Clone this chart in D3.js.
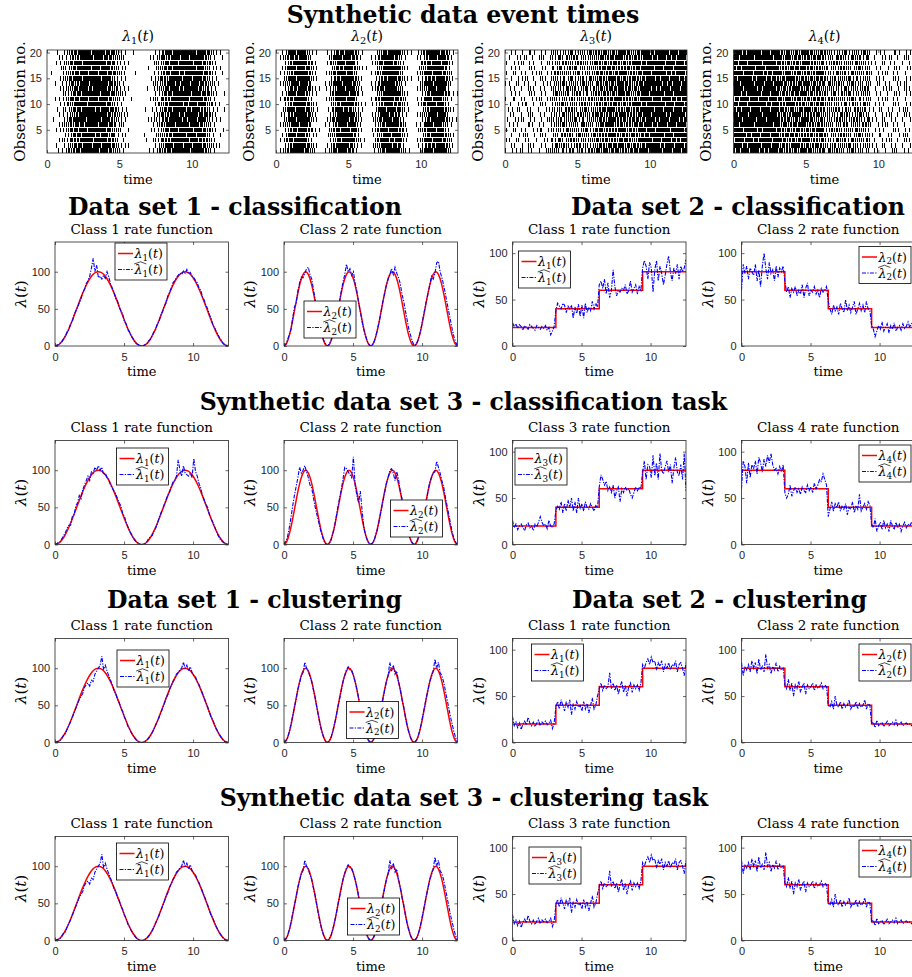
<!DOCTYPE html>
<html>
<head>
<meta charset="utf-8">
<script src="https://cdn.jsdelivr.net/npm/d3@7"></script>
<style>
body { margin: 0; background: #fff; }
svg { display: block; }
</style>
</head>
<body>
<div id="container"></div>
<script>
//time axis runs over two full periods
var tEnd = 4 * Math.PI;

//event counts per time bin (48 bins over [0, 4pi]), one string per observation, obs 1 first
var raster1 = [
  "0001 12233 4344343 32211 0000001 12233 43443434 3211 000",
  "0010 11233 3434434 33211 1000000 11234 34344343 3221 100",
  "0001 21323 4433443 32201 0000010 21323 44343443 2311 000",
  "0000 11234 3443434 23111 0000100 12223 34434434 3210 100",
  "0011 12333 4343443 32210 1000001 11233 43434343 3221 010",
  "0001 22233 3444343 33121 0000000 12234 34443433 2211 000",
  "0100 12334 4343434 32211 0000011 21233 44343434 3211 100",
  "0001 11223 4434443 32221 1000000 12323 43434434 3321 000",
  "0010 21233 3443434 33211 0000101 11234 34434343 2211 010",
  "0001 12234 4343443 32110 0000000 12233 44343434 3221 100",
  "0011 12333 4434343 32211 0100001 21323 43443434 3211 000",
  "0000 21234 3443434 33221 0000000 11234 34434343 3321 010",
  "0001 12233 4343443 32211 1000010 12233 43434434 2211 000",
  "0010 11323 4434434 33211 0000000 21234 34343443 3221 100",
  "0001 22334 3443434 32111 0000001 12323 44344343 3211 000",
  "0100 12233 4344343 33221 0010000 11233 43434434 3321 010",
  "0001 21233 4434434 32211 0000010 12234 34443434 2211 100",
  "0011 12334 3443443 33111 1000000 21233 43434343 3221 000",
  "0001 11223 4343434 32221 0000001 12323 44343434 3211 010",
  "0010 12233 4434343 33211 0100000 11234 34434434 3321 100"
];
var raster2 = [
  "012343433210 012334342100 001233443211 002343434210",
  "001234443210 011343432110 012244343100 011234343210",
  "012334342100 001233443211 002343434210 012343433210",
  "011343432110 012244343100 011234343210 001234443210",
  "001233443211 002343434210 012343433210 012334342100",
  "012244343100 011234343210 001234443210 011343432110",
  "002343434210 012343433210 012334342100 001233443211",
  "011234343210 001234443210 011343432110 012244343100",
  "012343433210 011343432110 002343434210 001234443210",
  "001234443210 001233443211 011234343210 012334342100",
  "012334342100 012244343100 012343433210 011343432110",
  "011343432110 002343434210 001234443210 001233443211",
  "001233443211 011234343210 012334342100 012244343100",
  "012244343100 012343433210 011343432110 002343434210",
  "002343434210 001234443210 001233443211 011234343210",
  "011234343210 012334342100 012244343100 012343433210",
  "012343433210 001233443211 001234443210 012244343100",
  "001234443210 012244343100 012334342100 002343434210",
  "012334342100 002343434210 011343432110 011234343210",
  "011343432110 011234343210 001233443211 012343433210"
];
var raster3 = [
  "101120110102 221213122132 324233232343 434343443434",
  "011010210110 132221231212 232333423232 334434343343",
  "110201101011 213122312122 323232433223 443343434334",
  "010112010210 121322132213 232343232332 343443343434",
  "102011011201 212132212312 332323342323 434334434343",
  "011100210110 122312213221 233432323233 343434334343",
  "101120110102 213122312122 232343232332 434334434343",
  "011010210110 121322132213 332323342323 343434334343",
  "110201101011 212132212312 233432323233 434343443434",
  "010112010210 122312213221 324233232343 334434343343",
  "102011011201 221213122132 232333423232 443343434334",
  "011100210110 132221231212 323232433223 343443343434",
  "011010210110 212132212312 232333423232 443343434334",
  "110201101011 122312213221 323232433223 343443343434",
  "010112010210 221213122132 232343232332 434334434343",
  "102011011201 132221231212 332323342323 343434334343",
  "011100210110 213122312122 233432323233 434343443434",
  "101120110102 121322132213 324233232343 334434343343",
  "010112010210 213122312122 232333423232 343434334343",
  "011010210110 221213122132 323232433223 443343434334"
];
var raster4 = [
  "334434343343 323232433223 132221231212 011010210110",
  "443343434334 232343232332 213122312122 110201101011",
  "343443343434 332323342323 121322132213 010112010210",
  "434334434343 233432323233 212132212312 102011011201",
  "343434334343 324233232343 122312213221 011100210110",
  "434343443434 232333423232 221213122132 101120110102",
  "343443343434 323232433223 121322132213 110201101011",
  "434334434343 232343232332 212132212312 010112010210",
  "343434334343 332323342323 122312213221 102011011201",
  "434343443434 233432323233 221213122132 011100210110",
  "334434343343 324233232343 132221231212 101120110102",
  "443343434334 232333423232 213122312122 011010210110",
  "343434334343 232343232332 221213122132 010112010210",
  "434343443434 332323342323 132221231212 102011011201",
  "334434343343 233432323233 213122312122 011100210110",
  "443343434334 324233232343 121322132213 101120110102",
  "343443343434 232333423232 212132212312 011010210110",
  "434334434343 323232433223 122312213221 110201101011",
  "434343443434 324233232343 121322132213 010112010210",
  "443343434334 323232433223 221213122132 011100210110"
];
var rasterTitles = ["1", "2", "3", "4"];

//true rate functions, sampled every pi/16
var trueGrid = d3.range(65).map(function(k) { return k * Math.PI / 16; });
var trueSin1 = [0, 0.96, 3.81, 8.43, 14.64, 22.22, 30.87, 40.25, 50, 59.75, 69.13, 77.78, 85.36, 91.57, 96.19, 99.04, 100,
  99.04, 96.19, 91.57, 85.36, 77.78, 69.13, 59.75, 50, 40.25, 30.87, 22.22, 14.64, 8.43, 3.81, 0.96, 0,
  0.96, 3.81, 8.43, 14.64, 22.22, 30.87, 40.25, 50, 59.75, 69.13, 77.78, 85.36, 91.57, 96.19, 99.04, 100,
  99.04, 96.19, 91.57, 85.36, 77.78, 69.13, 59.75, 50, 40.25, 30.87, 22.22, 14.64, 8.43, 3.81, 0.96, 0];
var trueSin2 = [0, 3.81, 14.64, 30.87, 50, 69.13, 85.36, 96.19, 100, 96.19, 85.36, 69.13, 50, 30.87, 14.64, 3.81,
  0, 3.81, 14.64, 30.87, 50, 69.13, 85.36, 96.19, 100, 96.19, 85.36, 69.13, 50, 30.87, 14.64, 3.81,
  0, 3.81, 14.64, 30.87, 50, 69.13, 85.36, 96.19, 100, 96.19, 85.36, 69.13, 50, 30.87, 14.64, 3.81,
  0, 3.81, 14.64, 30.87, 50, 69.13, 85.36, 96.19, 100, 96.19, 85.36, 69.13, 50, 30.87, 14.64, 3.81, 0];
//piecewise constant rates
var stepTimes = [0, Math.PI, 2 * Math.PI, 3 * Math.PI, 4 * Math.PI];
var stepUp = [20, 40, 60, 80, 80];
var stepDown = [80, 60, 40, 20, 20];

//estimated rate functions, sampled every pi/25
var estGrid = d3.range(101).map(function(k) { return k * Math.PI / 25; });
var estDs1Cls1 = [0, 1, 2, 4, 6, 10, 13, 19, 22, 30, 33, 42, 47,
  52, 58, 64, 72, 76, 84, 88, 94,
  105, 118, 100, 109, 92, 94, 90, 95, 91, 100, 93, 84, 78,
  73, 64, 61, 52, 47, 43, 33, 30, 22, 19, 13, 10, 5, 3, 2, 0, 0,
  0, 2, 3, 7, 9, 14, 19, 22, 30, 33, 42, 46, 54, 58, 67, 72, 78, 85, 88, 92, 95, 98, 96, 101, 98,
  103, 97, 99, 94, 92, 88, 85, 78, 75, 66, 62, 55, 50, 42, 37, 28, 25, 19, 15, 10, 7, 3, 2, 0, 0];
var estDs1Cls2 = [0, 2, 8, 15, 22, 38, 52, 58, 74, 85, 93, 92, 98, 104, 106, 96, 90, 76, 62, 50, 38, 25, 14, 7, 2, 0,
  2, 7, 14, 22, 35, 48, 60, 74, 86, 96, 110, 100, 104, 95, 100, 84, 74, 58, 46, 33, 22, 14, 6, 2, 0,
  2, 6, 14, 24, 34, 47, 60, 70, 82, 90, 96, 104, 96, 106, 98, 92, 84, 70, 60, 47, 35, 22, 14, 6, 1,
  2, 6, 14, 24, 36, 48, 60, 70, 82, 94, 90, 98, 112, 114, 100, 92, 82, 70, 58, 46, 34, 22, 12, 5, 0];
var estDs2Cls1 = [25, 21, 24, 19, 23, 21, 17, 22, 20, 18, 23, 21, 19, 17, 22, 20, 18, 21, 19, 22, 17, 20, 12, 16, 21,
  38, 46, 43, 40, 46, 44, 36, 43, 40, 44, 30, 42, 35, 45, 32, 44, 30, 46, 36, 42, 38, 48, 40, 46, 42,
  66, 70, 62, 72, 56, 68, 52, 60, 82, 64, 54, 60, 58, 62, 60, 66, 56, 60, 70, 58, 62, 66, 56, 64, 60,
  84, 92, 86, 72, 90, 84, 58, 82, 92, 70, 86, 78, 66, 76, 88, 97, 80, 70, 84, 78, 88, 72, 86, 80, 84, 93];
var estDs2Cls2 = [60, 88, 78, 86, 72, 84, 80, 76, 88, 70, 82, 64, 86, 100, 84, 72, 90, 78, 82, 70, 86, 74, 84, 80, 86,
  70, 58, 64, 52, 62, 58, 64, 54, 60, 56, 66, 52, 62, 68, 54, 60, 58, 64, 56, 60, 52, 62, 58, 60, 64,
  48, 40, 34, 44, 38, 42, 34, 46, 40, 36, 50, 38, 44, 36, 42, 48, 34, 40, 46, 38, 44, 36, 48, 40, 38,
  22, 18, 10, 16, 22, 18, 26, 16, 20, 24, 14, 22, 18, 25, 16, 20, 22, 17, 24, 19, 21, 26, 20, 24, 25, 28];
var estSet3Cls1 = [0, 1, 3, 4, 8, 12, 16, 22, 26, 26, 38, 40, 52, 56, 66, 62, 74, 80, 86, 92, 86, 98, 96, 104, 100, 106,
  100, 104, 94, 96, 90, 88, 80, 76, 72, 68, 62, 56, 52, 42, 38, 30, 24, 18, 14, 9, 6, 3, 2, 0, 0,
  0, 1, 4, 8, 10, 12, 18, 22, 28, 36, 42, 48, 54, 60, 66, 70, 78, 84, 86, 92, 114, 100, 92, 106, 96,
  94, 92, 96, 90, 116, 98, 92, 82, 76, 66, 60, 54, 50, 40, 34, 30, 24, 18, 12, 8, 5, 3, 1, 0, 0];
var estSet3Cls2 = [0, 4, 10, 22, 36, 52, 66, 78, 90, 104, 96, 100, 106, 98, 90, 80, 76, 62, 50, 40, 30, 20, 12, 5, 1, 0,
  1, 5, 14, 22, 36, 50, 62, 74, 88, 104, 102, 98, 94, 90, 118, 80, 66, 56, 72, 46, 24, 12, 6, 2, 0,
  2, 6, 14, 22, 34, 46, 58, 70, 82, 90, 100, 102, 96, 86, 98, 88, 72, 62, 48, 36, 22, 12, 6, 2, 0,
  1, 6, 14, 24, 36, 50, 58, 72, 84, 90, 96, 98, 112, 104, 96, 86, 78, 64, 52, 40, 28, 16, 8, 3, 0];
var estSet3Cls3 = [26, 18, 22, 16, 20, 22, 18, 15, 21, 23, 18, 20, 15, 22, 19, 24, 30, 24, 20, 22, 17, 26, 20, 18, 22,
  36, 42, 38, 46, 34, 44, 36, 48, 40, 50, 36, 46, 34, 50, 38, 44, 36, 46, 40, 38, 44, 40, 36, 42, 40,
  62, 75, 70, 64, 68, 58, 62, 56, 64, 50, 58, 62, 46, 60, 56, 62, 58, 60, 54, 50, 56, 62, 58, 62, 60,
  78, 90, 70, 86, 84, 72, 96, 74, 88, 70, 98, 80, 76, 84, 90, 78, 86, 66, 82, 94, 78, 74, 86, 70, 98, 58];
var estSet3Cls4 = [60, 90, 84, 66, 88, 72, 86, 82, 90, 76, 94, 88, 78, 92, 84, 96, 88, 98, 86, 80, 82, 76, 84, 78, 86,
  56, 50, 54, 64, 52, 58, 62, 56, 60, 54, 62, 58, 56, 64, 58, 62, 56, 66, 60, 64, 70, 68, 76, 70, 64,
  30, 38, 46, 36, 44, 40, 46, 36, 42, 38, 44, 32, 40, 38, 46, 34, 42, 38, 54, 36, 40, 44, 38, 46, 42,
  22, 18, 28, 14, 20, 24, 16, 26, 18, 22, 14, 26, 20, 16, 24, 18, 22, 14, 20, 24, 18, 22, 20, 24, 20, 22];
//clustering estimates (the same curves appear for data set 1/2 and data set 3)
var estClu1 = [0, 1, 2, 3, 6, 10, 12, 18, 23, 28, 34, 40, 46, 52, 58, 62, 66, 74, 78, 80, 76, 84, 82, 92, 96, 100,
  104, 116, 98, 104, 96, 90, 84, 78, 70, 66, 58, 54, 46, 42, 34, 30, 22, 18, 13, 9, 6, 3, 1, 0, 0,
  0, 2, 3, 6, 9, 13, 18, 24, 28, 34, 40, 46, 52, 60, 64, 72, 76, 82, 86, 92, 94, 98, 100, 108, 100,
  104, 96, 102, 94, 90, 88, 82, 78, 72, 66, 60, 54, 48, 40, 34, 30, 24, 18, 14, 10, 6, 3, 1, 0, 0];
var estClu2 = [0, 2, 6, 14, 24, 36, 48, 58, 72, 80, 90, 94, 108, 100, 96, 88, 82, 70, 60, 46, 34, 22, 13, 6, 1, 0,
  2, 6, 14, 24, 34, 48, 58, 70, 82, 90, 98, 102, 98, 97, 90, 82, 72, 60, 46, 34, 24, 14, 6, 2, 0,
  2, 6, 14, 24, 34, 46, 58, 70, 82, 90, 108, 96, 104, 92, 96, 82, 72, 58, 48, 34, 22, 14, 6, 2, 0,
  2, 6, 14, 24, 36, 48, 60, 70, 82, 88, 96, 112, 100, 108, 94, 90, 82, 70, 58, 46, 34, 24, 14, 6, 0];
var estClu3 = [28, 18, 22, 16, 21, 14, 20, 23, 19, 27, 21, 18, 22, 17, 21, 24, 18, 22, 20, 23, 19, 21, 24, 15, 21,
  38, 44, 36, 46, 40, 34, 44, 38, 46, 30, 42, 36, 44, 38, 40, 34, 44, 36, 42, 32, 40, 48, 36, 40, 50,
  58, 64, 56, 62, 58, 60, 75, 58, 64, 56, 62, 52, 60, 66, 54, 62, 50, 60, 64, 54, 62, 58, 62, 56, 64,
  84, 80, 86, 90, 84, 92, 86, 88, 78, 86, 82, 88, 76, 84, 80, 86, 78, 84, 82, 88, 76, 84, 86, 80, 72, 86];
var estClu4 = [86, 72, 82, 78, 84, 76, 88, 80, 86, 74, 90, 78, 82, 76, 95, 80, 84, 74, 82, 78, 86, 76, 82, 78, 80,
  62, 58, 68, 56, 64, 50, 62, 58, 66, 54, 60, 64, 52, 62, 58, 60, 64, 56, 62, 58, 60, 64, 58, 62, 60,
  40, 38, 44, 36, 50, 40, 38, 44, 36, 42, 38, 40, 46, 36, 40, 38, 44, 36, 42, 38, 40, 46, 36, 42, 40,
  20, 22, 16, 24, 18, 20, 22, 17, 20, 23, 18, 20, 22, 19, 24, 18, 20, 22, 18, 20, 21, 19, 20, 18, 20, 19];

//panel texts
var rateClassNo = [["1", "2", "1", "2"], ["1", "2", "3", "4"], ["1", "2", "1", "2"], ["1", "2", "3", "4"]];
var rateEstimates = [
  [estDs1Cls1, estDs1Cls2, estDs2Cls1, estDs2Cls2],
  [estSet3Cls1, estSet3Cls2, estSet3Cls3, estSet3Cls4],
  [estClu1, estClu2, estClu3, estClu4],
  [estClu1, estClu2, estClu3, estClu4]
];
var yTicksRate = [0, 50, 100];
var xTicks = [0, 5, 10];
var yTicksRaster = [5, 10, 15, 20];

//layout
var W = 912, H = 977;
var serif = '"DejaVu Serif", serif';
var sans = '"Liberation Sans", Arial, sans-serif';
var axisColor = "#262626";
var estDash = "4,1.3,1.3,1.3";
var rasterLeft = [47, 276, 505, 733.5], rasterTop = 50, rasterW = 182, rasterH = 103;
var rateLeft = [55, 284, 512.5, 741.5], rateTop = [242, 440.5, 638.5, 836.5], rateW = 173.5, rateH = 104;
var rateYmax = [140, 140, 112, 112];
//legend offsets from the axes corner
var legendPos = [
  [[60, 1], [20, 59], [6, 9], [117.5, 4.5]],
  [[61.5, 7.5], [106.5, 59.5], [2.5, 7.5], [117.5, 4.5]],
  [[62, 11.5], [62.5, 63], [19, 5.5], [117.5, 5.5]],
  [[61.5, 6.5], [63.5, 61.5], [16.5, 10.5], [117.5, 3.5]]
];
var superTitles = [
  {text: "Synthetic data event times", x: 463, y: 23, anchor: "middle"},
  {text: "Data set 1 - classification", x: 402, y: 215, anchor: "end"},
  {text: "Data set 2 - classification", x: 571, y: 215, anchor: "start"},
  {text: "Synthetic data set 3 - classification task", x: 463.5, y: 410, anchor: "middle"},
  {text: "Data set 1 - clustering", x: 402, y: 608, anchor: "end"},
  {text: "Data set 2 - clustering", x: 572, y: 608, anchor: "start"},
  {text: "Synthetic data set 3 - clustering task", x: 464, y: 806, anchor: "middle"}
];

var svg = d3.select("#container")
  .append("svg")
  .attr("width", W)
  .attr("height", H);

var clipCount = 0;
function addClip(w, h) {
  clipCount++;
  var id = "clip" + clipCount;
  svg.append("clipPath").attr("id", id)
    .append("rect").attr("width", w).attr("height", h);
  return "url(#" + id + ")";
}

//lambda_i(t) label, with a wide hat when hat is true
function lambdaText(g, x0, y0, idx, size, hat) {
  var t = g.append("text")
    .attr("x", x0).attr("y", y0)
    .style("font-family", serif)
    .style("font-size", size + "px")
    .attr("fill", "#000");
  t.append("tspan").style("font-style", "italic").text("λ");
  if (idx) {
    t.append("tspan").style("font-size", (size * 0.7) + "px").attr("dy", size * 0.22).text(idx);
    t.append("tspan").attr("dy", -size * 0.22).text("(");
  } else {
    t.append("tspan").text("(");
  }
  t.append("tspan").style("font-style", "italic").text("t");
  t.append("tspan").text(")");
  if (hat) {
    var hw = size * 0.95;
    g.append("path")
      .attr("d", "M" + (x0 - 0.3) + "," + (y0 - size * 0.8) + "L" + (x0 + hw / 2) + "," + (y0 - size * 0.98) + "L" + (x0 + hw) + "," + (y0 - size * 0.8))
      .attr("fill", "none").attr("stroke", "#000").attr("stroke-width", 0.7);
  }
  return t;
}

//box, inward ticks on all four sides, tick labels bottom/left
function drawFrame(g, x, y, w, h, yTicks) {
  g.append("g")
    .attr("transform", "translate(0," + h + ")")
    .call(d3.axisBottom(x).tickValues(xTicks).tickSize(-3).tickPadding(7));
  g.append("g")
    .call(d3.axisTop(x).tickValues(xTicks).tickSize(-3).tickFormat(""));
  g.append("g")
    .call(d3.axisLeft(y).tickValues(yTicks).tickSize(-3).tickPadding(5));
  g.append("g")
    .attr("transform", "translate(" + w + ",0)")
    .call(d3.axisRight(y).tickValues(yTicks).tickSize(-3).tickFormat(""));
  g.selectAll(".domain").remove();
  g.selectAll(".tick line").attr("stroke", axisColor).attr("stroke-width", 0.7);
  g.selectAll(".tick text")
    .attr("fill", axisColor)
    .style("font-family", sans)
    .style("font-size", "11px");
  g.append("rect")
    .attr("width", w).attr("height", h)
    .attr("fill", "none")
    .attr("stroke", axisColor)
    .attr("stroke-width", 0.8);
}

//super titles
svg.selectAll(".suptitle")
  .data(superTitles)
  .enter()
  .append("text")
  .attr("class", "suptitle")
  .attr("x", function(d) { return d.x; })
  .attr("y", function(d) { return d.y; })
  .attr("text-anchor", function(d) { return d.anchor; })
  .style("font-family", serif)
  .style("font-weight", "bold")
  .style("font-size", "23.6px")
  .text(function(d) { return d.text; });

//raster plots of event times
var rasters = [raster1, raster2, raster3, raster4];
rasters.forEach(function(rows, col) {
  var g = svg.append("g").attr("transform", "translate(" + rasterLeft[col] + "," + rasterTop + ")");
  var x = d3.scaleLinear().domain([0, tEnd]).range([0, rasterW]);
  var y = d3.scaleLinear().domain([0.5, 20.5]).range([rasterH, 0]);

  var events = [];
  rows.forEach(function(s, i) {
    var bins = s.replace(/\s/g, "");
    var bw = tEnd / bins.length;
    //shift each row a little inside its bins so events do not line up across rows
    var shift = ((i * 0.618) % 1) * 0.8 + 0.1;
    for (var b = 0; b < bins.length; b++) {
      var n = +bins[b];
      for (var j = 0; j < n; j++) events.push({obs: i + 1, t: (b + (j + shift) / n) * bw});
    }
  });

  g.append("g")
    .attr("clip-path", addClip(rasterW, rasterH))
    .attr("shape-rendering", "crispEdges")
    .selectAll("line")
    .data(events)
    .enter()
    .append("line")
    .attr("x1", function(d) { return x(d.t); })
    .attr("x2", function(d) { return x(d.t); })
    .attr("y1", function(d) { return y(d.obs - 0.45); })
    .attr("y2", function(d) { return y(d.obs + 0.45); })
    .attr("stroke", "#000")
    .attr("stroke-width", 1);

  drawFrame(g, x, y, rasterW, rasterH, yTicksRaster);

  //title
  var tg = g.append("g");
  var tt = lambdaText(tg, 0, -9, rasterTitles[col], 14, false);
  var tw = tt.node().getComputedTextLength();
  tt.attr("x", rasterW / 2 - tw / 2);

  g.append("text")
    .attr("x", rasterW / 2).attr("y", rasterH + 31)
    .attr("text-anchor", "middle")
    .style("font-family", serif).style("font-size", "13px")
    .text("time");
  g.append("text")
    .attr("transform", "translate(-27.5," + (rasterH / 2) + ") rotate(-90)")
    .attr("dy", "0.35em")
    .attr("text-anchor", "middle")
    .style("font-family", serif).style("font-size", "15px")
    .text("Observation no.");
});

//rate function panels
rateEstimates.forEach(function(rowEst, row) {
  rowEst.forEach(function(est, col) {
    var w = rateW, h = rateH;
    var g = svg.append("g").attr("transform", "translate(" + rateLeft[col] + "," + rateTop[row] + ")");
    var x = d3.scaleLinear().domain([0, tEnd]).range([0, w]);
    var y = d3.scaleLinear().domain([0, rateYmax[col]]).range([h, 0]);

    var truth;
    if (col < 2) {
      var vals = col === 0 ? trueSin1 : trueSin2;
      truth = {pts: trueGrid.map(function(t, i) { return [t, vals[i]]; }), curve: d3.curveMonotoneX};
    } else {
      var sv = col === 2 ? stepUp : stepDown;
      truth = {pts: stepTimes.map(function(t, i) { return [t, sv[i]]; }), curve: d3.curveStepAfter};
    }
    var estPts = estGrid.map(function(t, i) { return [t, est[i]]; });

    var plot = g.append("g").attr("clip-path", addClip(w, h));
    plot.append("path")
      .datum(truth.pts)
      .attr("fill", "none")
      .attr("stroke", "#ff0000")
      .attr("stroke-width", 1.5)
      .attr("d", d3.line().curve(truth.curve).x(function(d) { return x(d[0]); }).y(function(d) { return y(d[1]); }));
    plot.append("path")
      .datum(estPts)
      .attr("fill", "none")
      .attr("stroke", "#0000ff")
      .attr("stroke-width", 1.1)
      .attr("stroke-dasharray", estDash)
      .attr("d", d3.line().x(function(d) { return x(d[0]); }).y(function(d) { return y(d[1]); }));

    drawFrame(g, x, y, w, h, yTicksRate);

    var idx = rateClassNo[row][col];
    g.append("text")
      .attr("x", w / 2).attr("y", -8.5)
      .attr("text-anchor", "middle")
      .style("font-family", serif).style("font-size", "13.5px")
      .text("Class " + idx + " rate function");
    g.append("text")
      .attr("x", w / 2).attr("y", h + 30)
      .attr("text-anchor", "middle")
      .style("font-family", serif).style("font-size", "13px")
      .text("time");
    var yl = g.append("text")
      .attr("transform", "translate(-34," + (h / 2) + ") rotate(-90)")
      .attr("dy", "0.35em")
      .attr("text-anchor", "middle")
      .style("font-family", serif).style("font-size", "15px");
    yl.append("tspan").style("font-style", "italic").text("λ");
    yl.append("tspan").text("(");
    yl.append("tspan").style("font-style", "italic").text("t");
    yl.append("tspan").text(")");

    //legend
    var lw = 52, lh = 37;
    var lg = g.append("g").attr("transform", "translate(" + legendPos[row][col][0] + "," + legendPos[row][col][1] + ")");
    lg.append("rect").attr("width", lw).attr("height", lh)
      .attr("fill", "#fff").attr("stroke", "#000").attr("stroke-width", 0.8);
    var r1 = 10.5, r2 = 26.5;
    lg.append("line").attr("x1", 3).attr("x2", 18).attr("y1", r1).attr("y2", r1)
      .attr("stroke", "#ff0000").attr("stroke-width", 1.5);
    lg.append("line").attr("x1", 3).attr("x2", 18).attr("y1", r2).attr("y2", r2)
      .attr("stroke", "#0000ff").attr("stroke-width", 1.1).attr("stroke-dasharray", estDash);
    lambdaText(lg, 19.5, r1 + 4.5, idx, 12.5, false);
    lambdaText(lg, 19.5, r2 + 4.5, idx, 12.5, true);
  });
});
</script>
</body>
</html>
